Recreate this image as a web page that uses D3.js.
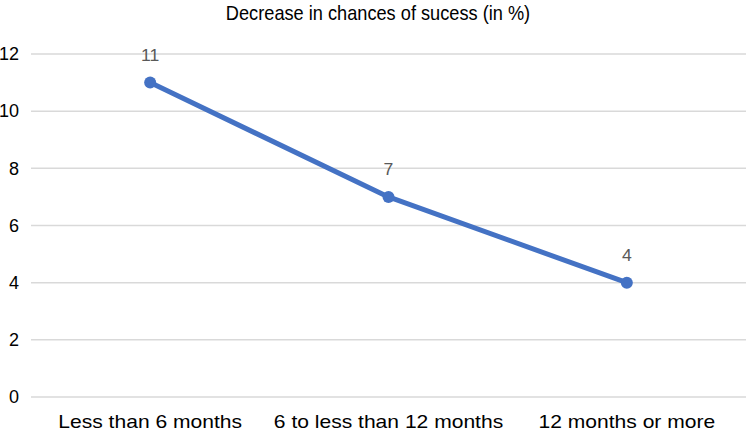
<!DOCTYPE html>
<html>
<head>
<meta charset="utf-8">
<script src="https://cdn.jsdelivr.net/npm/d3@7"></script>
<style>
  body { margin: 0; background: #fff; }
  svg { display: block; font-family: "Liberation Sans", Arial, sans-serif; }
</style>
</head>
<body>
<svg id="chart" width="746" height="436"></svg>
<script>
var categories = ["Less than 6 months", "6 to less than 12 months", "12 months or more"];
var values = [11, 7, 4];
var yTicks = [0, 2, 4, 6, 8, 10, 12];

var svg = d3.select("#chart"),
    width = +svg.attr("width"),
    height = +svg.attr("height");

var margin = {top: 54, right: 0, bottom: 39, left: 31};

var x = d3.scaleBand()
    .domain(categories)
    .range([margin.left, width - margin.right]);

var y = d3.scaleLinear()
    .domain([0, 12])
    .range([height - margin.bottom, margin.top]);

function cx(i) { return x(categories[i]) + x.bandwidth() / 2; }

// title (narrow in the source)
svg.append("text")
    .attr("transform", "translate(378,20) scale(0.91,1)")
    .attr("text-anchor", "middle")
    .style("font-size", "20px")
    .style("fill", "#000")
    .text("Decrease in chances of sucess (in %)");

// gridlines
svg.append("g")
  .selectAll("line")
    .data(yTicks)
  .enter().append("line")
    .attr("x1", 31)
    .attr("x2", width)
    .attr("y1", function(d) { return y(d); })
    .attr("y2", function(d) { return y(d); })
    .style("stroke", "#d9d9d9")
    .style("stroke-width", 1.5);

// y labels
svg.append("g")
  .selectAll("text")
    .data(yTicks)
  .enter().append("text")
    .attr("x", 19)
    .attr("y", function(d) { return y(d); })
    .attr("dy", ".35em")
    .attr("text-anchor", "end")
    .style("font-size", "18px")
    .style("fill", "#000")
    .text(function(d) { return d; });

// x labels (slightly stretched like the source image)
svg.append("g")
  .selectAll("text")
    .data(categories)
  .enter().append("text")
    .attr("transform", function(d, i) { return "translate(" + cx(i) + ",428) scale(1.17,1)"; })
    .attr("text-anchor", "middle")
    .style("font-size", "18px")
    .style("fill", "#000")
    .text(function(d) { return d; });

var line = d3.line()
    .x(function(d, i) { return cx(i); })
    .y(function(d) { return y(d); });

svg.append("path")
    .datum(values)
    .attr("d", line)
    .style("fill", "none")
    .style("stroke", "#4472c4")
    .style("stroke-width", 5)
    .style("stroke-linejoin", "round");

svg.append("g")
  .selectAll("circle")
    .data(values)
  .enter().append("circle")
    .attr("cx", function(d, i) { return cx(i); })
    .attr("cy", function(d) { return y(d); })
    .attr("r", 6)
    .style("fill", "#4472c4");

// data labels
svg.append("g")
  .selectAll("text")
    .data(values)
  .enter().append("text")
    .attr("transform", function(d, i) { return "translate(" + cx(i) + "," + (y(d) - 22) + ") scale(1.1,1)"; })
    .attr("text-anchor", "middle")
    .style("font-size", "16px")
    .style("fill", "#595959")
    .text(function(d) { return d; });
</script>
</body>
</html>
